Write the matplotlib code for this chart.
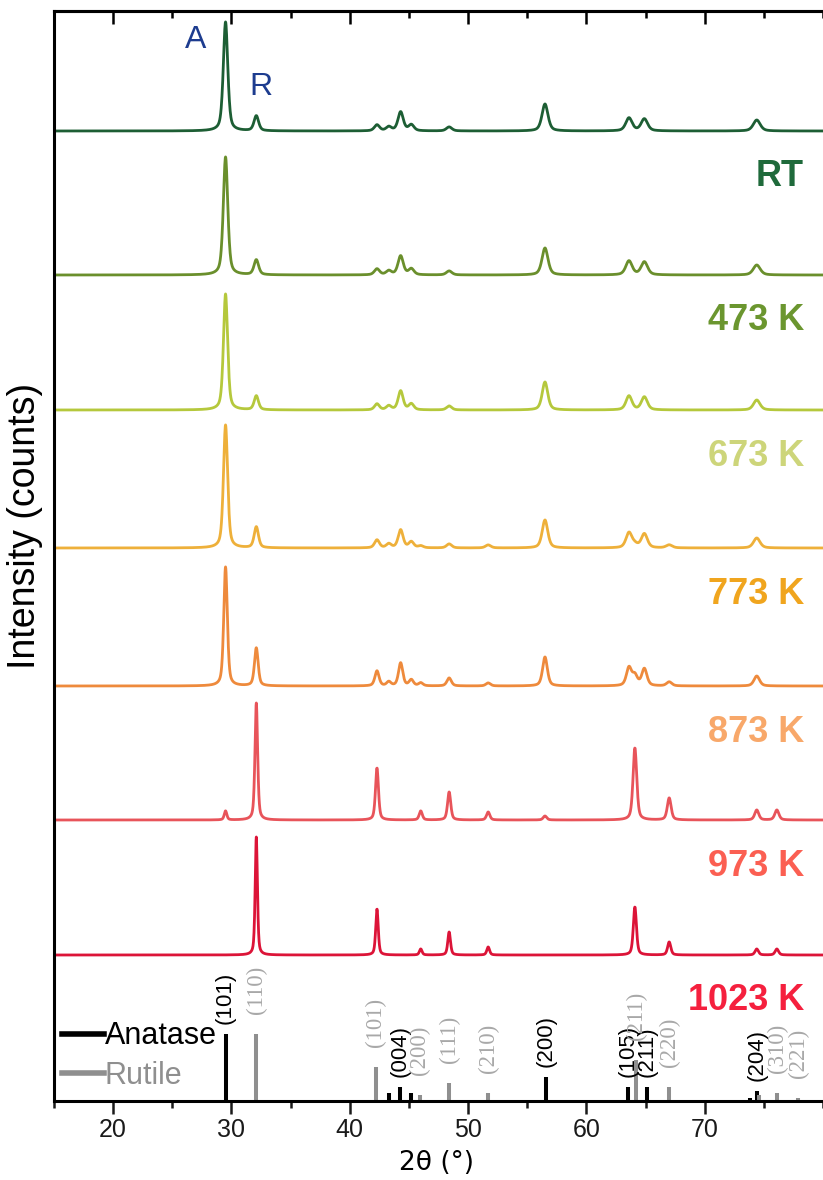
import numpy as np
import matplotlib
matplotlib.use("Agg")
import matplotlib.pyplot as plt
from matplotlib.lines import Line2D

plt.rcParams["font.family"] = ["Liberation Sans", "DejaVu Sans"]

# ---------------------------------------------------------------------------
# Data
# ---------------------------------------------------------------------------
samples = ["RT", "473 K", "673 K", "773 K", "873 K", "973 K", "1023 K"]

# Reflection positions (2theta, degrees) observed in the patterns
peak_pos = [29.5, 32.1, 42.3, 43.3, 44.3, 45.2, 46.0, 48.4, 51.7,
            56.5, 63.6, 64.1, 64.9, 67.0, 74.4, 76.1]

# Peak heights for every sample (counts, arbitrary scale), same order as peak_pos
h_rt    = [109, 15, 6, 4, 19, 6, 0, 4, 0, 27, 13, 0, 12, 0, 11, 0]
h_473   = [118, 15, 6, 4, 19, 6, 0, 4, 0, 27, 14, 0, 13, 0, 10, 0]
h_673   = [116, 14, 6, 4, 19, 6, 0, 4, 0, 28, 14, 0, 13, 0, 10, 0]
h_773   = [123, 21, 8, 4, 18, 6, 2, 4, 3, 28, 15, 3, 14, 3, 10, 0]
h_873   = [119, 38, 15, 4, 23, 6, 3, 8, 3, 29, 18, 10, 17, 4, 10, 0]
h_973   = [9, 117, 52, 0, 0, 0, 9, 28, 8, 4, 0, 72, 0, 22, 10, 10]
h_1023  = [0, 118, 46, 0, 0, 0, 6, 23, 8, 0, 0, 48, 0, 13, 6, 6]
heights = [h_rt, h_473, h_673, h_773, h_873, h_973, h_1023]

# Peak widths (FWHM, degrees) for every sample
fwhm = [0.45, 0.45, 0.42, 0.42, 0.36, 0.26, 0.22]

# Reference patterns
anatase_pos = [29.5, 43.3, 44.25, 45.2, 56.6, 63.5, 65.1, 73.8, 74.45]
anatase_int = [67, 8, 14, 8, 24, 14, 14, 3, 10]
anatase_hkl = ["(101)", "", "(004)", "", "(200)", "(105)", "(211)", "", "(204)"]

rutile_pos = [32.1, 42.2, 45.9, 48.4, 51.7, 64.2, 67.0, 74.6, 76.15, 77.9]
rutile_int = [67, 34, 6, 18, 8, 41, 14, 6, 8, 3]
rutile_hkl = ["(110)", "(101)", "(200)", "(111)", "(210)", "(211)", "(220)", "", "(310)", "(221)"]

# ---------------------------------------------------------------------------
# Style
# ---------------------------------------------------------------------------
line_colors = ["#1d5e34", "#6a8f2c", "#b5c83c", "#eeb03a", "#ee8a3c", "#e8545a", "#dc1438"]
text_colors = ["#1f6a3b", "#6b962f", "#cdd57a", "#f0a51e", "#f8a86a", "#fb5f52", "#f5203e"]
offsets = [970, 826, 691, 553, 415, 281, 146]


def pattern(x, pos, hts, w):
    y = np.zeros_like(x)
    for c, h in zip(pos, hts):
        if h <= 0:
            continue
        ww = w * (1 + (c - 30) / 80.0)
        d = (x - c) / ww
        gauss = np.exp(-4 * np.log(2) * d ** 2)
        lor = 1.0 / (1 + 4 * d ** 2)
        y += h * (0.5 * gauss + 0.5 * lor)
    return y


fig = plt.figure(figsize=(8.23, 11.80), dpi=100)
ax = fig.add_axes([54 / 823, 79 / 1180, 769 / 823, 1090 / 1180])

x = np.linspace(15, 80, 3000)
for name, hts, w, off, lc, tc in zip(samples, heights, fwhm, offsets, line_colors, text_colors):
    ax.plot(x, off + pattern(x, peak_pos, hts, w), color=lc, lw=2.0)
    ax.text(78.4, off - 46, name, color=tc, fontsize=26, fontweight="bold",
            ha="right", va="center")

# reference sticks
ax.vlines(anatase_pos, 0, anatase_int, color="black", lw=2.9)
ax.vlines(rutile_pos, 0, rutile_int, color="#8f8f8f", lw=2.9)
for p, h, lab in zip(anatase_pos, anatase_int, anatase_hkl):
    if lab:
        ax.text(p, h + 10, lab, rotation=90, ha="center", va="bottom",
                fontsize=16, color="black")
for p, h, lab in zip(rutile_pos, rutile_int, rutile_hkl):
    if lab:
        ax.text(p, h + 20, lab, rotation=90, ha="center", va="bottom",
                fontsize=16.5, color="#a8a8a8", family="Liberation Serif")

# phase markers
ax.text(27.0, 1061, "A", color="#1d3c8f", fontsize=23, ha="center", va="center")
ax.text(32.5, 1014, "R", color="#1d3c8f", fontsize=23, ha="center", va="center")

handles = [Line2D([], [], color="black", lw=4),
           Line2D([], [], color="#8f8f8f", lw=4)]
leg = ax.legend(handles, ["Anatase", "Rutile"], loc="upper left",
                bbox_to_anchor=(0.010, 0.073), frameon=False, fontsize=22,
                handlelength=1.4, handletextpad=0.0, borderpad=0,
                borderaxespad=0, labelspacing=0.3)
leg.get_texts()[1].set_color("#8f8f8f")

ax.set_xlim(15, 80)
ax.set_ylim(0, 1090)
ax.set_xticks([20, 30, 40, 50, 60, 70])
ax.set_xticks(np.arange(15, 81, 5), minor=True)
ax.set_yticks([])
ax.tick_params(axis="x", which="both", direction="out", bottom=True, top=False,
               labelsize=18, width=1.8, colors="#1a1a1a")
ax.tick_params(axis="x", which="major", length=9)
ax.tick_params(axis="x", which="minor", length=5)

# inward ticks along the top edge
top = ax.secondary_xaxis("top")
top.set_xticks([20, 30, 40, 50, 60, 70])
top.set_xticks(np.arange(15, 81, 5), minor=True)
top.tick_params(which="both", direction="in", labeltop=False, width=1.8)
top.tick_params(which="major", length=9)
top.tick_params(which="minor", length=5)
top.spines["top"].set_linewidth(2.2)

for s in ["left", "bottom", "top"]:
    ax.spines[s].set_linewidth(2.2)
ax.spines["right"].set_visible(False)

ax.set_xlabel("2θ (°)", fontsize=19, family=["DejaVu Sans"])
ax.xaxis.set_label_coords(0.498, -0.045)
ax.set_ylabel("Intensity (counts)", fontsize=27)
ax.yaxis.set_label_coords(-0.014, 0.528)

fig.savefig("out.png", dpi=100)
